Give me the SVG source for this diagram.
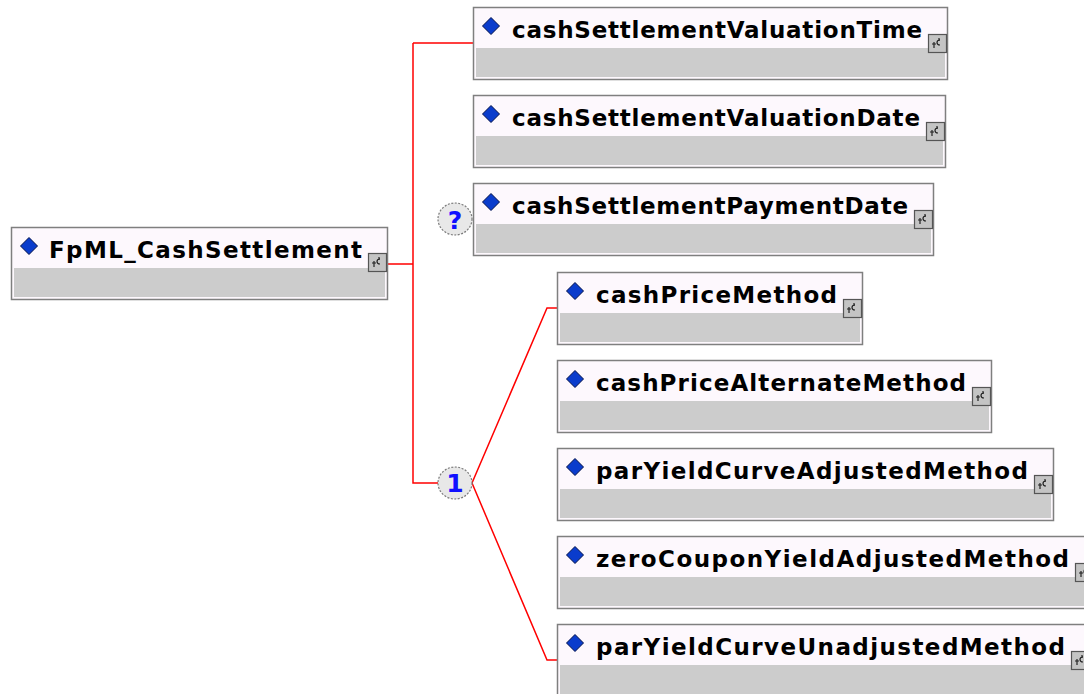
<svg xmlns="http://www.w3.org/2000/svg" width="1084" height="694" viewBox="0 0 1084 694">
<defs>
<style>
.box{fill:#fdf8fd;stroke:#7f7f7f;stroke-width:1.5}
.body{fill:#cccccc}
.dia{fill:#0a3ccc;stroke:#00104a;stroke-width:1}
.lbl{font-family:"DejaVu Sans",Verdana,sans-serif;font-weight:bold;font-size:23px;fill:#000}
.ico{fill:#c4c4c4;stroke:#555;stroke-width:1.2}
.glyph{fill:none;stroke:#222;stroke-width:1.2}
.conn{fill:none;stroke:#ff0000;stroke-width:1.5}
.badge{fill:#e8e8e8;stroke:#7a7a7a;stroke-width:1.2;stroke-dasharray:2,1.5}
.bt{font-family:"DejaVu Sans",Verdana,sans-serif;font-weight:bold;font-size:25px;fill:#1010ff;text-anchor:middle}
</style>
<g id="icon">
<rect class="ico" x="0.5" y="0.5" width="18" height="18"/>
<path class="glyph" d="M6,14 V8 M4,10 H8 M12,6 Q9,6 9,8.5 Q9,11 12,11 M11,4 V7"/>
</g>
<polygon id="dmd" class="dia" points="18,10.5 26.5,19 18,27.5 9.5,19"/>
</defs>
<g id="connectors">
<path class="conn" d="M388,264 H413 M413,43 V483 H438 M413,43 H473"/>
<path class="conn" d="M472,483 L547,308 H557 M472,483 L547,660 H557"/>
</g>
<g id="root" transform="translate(11,227)">
<rect class="box" x="0.5" y="0.5" width="376" height="72"/>
<rect class="body" x="3" y="41" width="371" height="29"/>
<use href="#dmd"/>
<text class="lbl" x="38" y="31" textLength="313" lengthAdjust="spacing">FpML_CashSettlement</text>
<use href="#icon" x="357" y="26"/>
</g>
<g id="n1" transform="translate(473,7)">
<rect class="box" x="0.5" y="0.5" width="474" height="72"/>
<rect class="body" x="3" y="41" width="469" height="29"/>
<use href="#dmd"/>
<text class="lbl" x="39" y="31" textLength="410" lengthAdjust="spacing">cashSettlementValuationTime</text>
<use href="#icon" x="455" y="27"/>
</g>
<g id="n2" transform="translate(473,95)">
<rect class="box" x="0.5" y="0.5" width="472" height="72"/>
<rect class="body" x="3" y="41" width="467" height="29"/>
<use href="#dmd"/>
<text class="lbl" x="39" y="31" textLength="408" lengthAdjust="spacing">cashSettlementValuationDate</text>
<use href="#icon" x="453" y="27"/>
</g>
<g id="n3" transform="translate(473,183)">
<rect class="box" x="0.5" y="0.5" width="460" height="72"/>
<rect class="body" x="3" y="41" width="455" height="29"/>
<use href="#dmd"/>
<text class="lbl" x="39" y="31" textLength="396" lengthAdjust="spacing">cashSettlementPaymentDate</text>
<use href="#icon" x="441" y="27"/>
</g>
<g id="opt">
<ellipse class="badge" cx="455" cy="219" rx="17" ry="16"/>
<text class="bt" x="455" y="229">?</text>
</g>
<g id="choice">
<ellipse class="badge" cx="455" cy="483" rx="17" ry="16"/>
<text class="bt" x="455" y="492">1</text>
</g>
<g id="n4" transform="translate(557,272)">
<rect class="box" x="0.5" y="0.5" width="305" height="72"/>
<rect class="body" x="3" y="41" width="300" height="29"/>
<use href="#dmd"/>
<text class="lbl" x="39" y="31" textLength="241" lengthAdjust="spacing">cashPriceMethod</text>
<use href="#icon" x="286" y="27"/>
</g>
<g id="n5" transform="translate(557,360)">
<rect class="box" x="0.5" y="0.5" width="434" height="72"/>
<rect class="body" x="3" y="41" width="429" height="29"/>
<use href="#dmd"/>
<text class="lbl" x="39" y="31" textLength="370" lengthAdjust="spacing">cashPriceAlternateMethod</text>
<use href="#icon" x="415" y="27"/>
</g>
<g id="n6" transform="translate(557,448)">
<rect class="box" x="0.5" y="0.5" width="496" height="72"/>
<rect class="body" x="3" y="41" width="491" height="29"/>
<use href="#dmd"/>
<text class="lbl" x="39" y="31" textLength="432" lengthAdjust="spacing">parYieldCurveAdjustedMethod</text>
<use href="#icon" x="477" y="27"/>
</g>
<g id="n7" transform="translate(557,536)">
<rect class="box" x="0.5" y="0.5" width="537" height="72"/>
<rect class="body" x="3" y="41" width="532" height="29"/>
<use href="#dmd"/>
<text class="lbl" x="39" y="31" textLength="473" lengthAdjust="spacing">zeroCouponYieldAdjustedMethod</text>
<use href="#icon" x="518" y="27"/>
</g>
<g id="n8" transform="translate(557,624)">
<rect class="box" x="0.5" y="0.5" width="533" height="72"/>
<rect class="body" x="3" y="41" width="528" height="29"/>
<use href="#dmd"/>
<text class="lbl" x="39" y="31" textLength="469" lengthAdjust="spacing">parYieldCurveUnadjustedMethod</text>
<use href="#icon" x="514" y="27"/>
</g>
</svg>
